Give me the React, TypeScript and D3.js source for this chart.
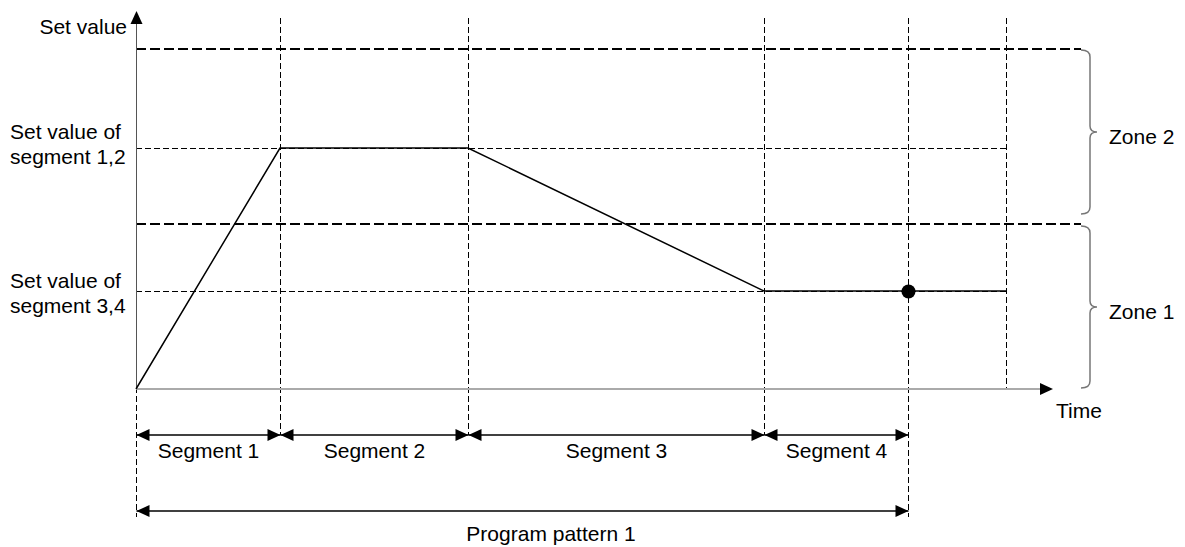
import * as d3 from "d3";

const W = 1185;
const H = 547;

// segment boundary times (arbitrary time units)
const boundaries = [0, 144, 332, 628, 772, 870];
const segmentNames = ["Segment 1", "Segment 2", "Segment 3", "Segment 4"];
// program profile: [time, set value]
const profileTimes = [0, 144, 332, 628, 870];
const profileValues = [0, 241, 241, 98, 98];
const levelValues = [241, 98];
const levelLabels = [["Set value of", "segment 1,2"], ["Set value of", "segment 3,4"]];
const zoneEdges = [0, 165, 340];
const zoneNames = ["Zone 1", "Zone 2"];
const markerTime = 772;

const font = "Arial, 'Liberation Sans', sans-serif";

export default function App() {
  const x = d3.scaleLinear().domain([0, 917]).range([136, 1053]);
  const y = d3.scaleLinear().domain([0, 377]).range([389, 12]);

  const x0 = x(0);
  const y0 = y(0);
  const segY = 435;
  const progY = 511;
  const lastT = boundaries[boundaries.length - 1];
  const labelOffsets = [-9, -3];

  const line = d3
    .line<number>()
    .x((_, i) => x(profileTimes[i]))
    .y((v) => y(v));

  const arrowR = (tx: number, ty: number) =>
    `M${tx},${ty} L${tx - 13},${ty - 6} L${tx - 13},${ty + 6} Z`;
  const arrowL = (tx: number, ty: number) =>
    `M${tx},${ty} L${tx + 13},${ty - 6} L${tx + 13},${ty + 6} Z`;

  const brace = (top: number, bot: number) => {
    const bx = 1081;
    const vx = 1090;
    const mid = (top + bot) / 2;
    const r = 7;
    return `M${bx},${top} Q${vx},${top} ${vx},${top + r}
      L${vx},${mid - 6} Q${vx},${mid} ${vx + 7},${mid}
      Q${vx},${mid} ${vx},${mid + 6}
      L${vx},${bot - r} Q${vx},${bot} ${bx},${bot}`;
  };
  const braceRanges = [
    [y(zoneEdges[1]) + 2, y(zoneEdges[0]) - 1],
    [y(zoneEdges[2]) + 1, y(zoneEdges[1]) - 10],
  ];

  return (
    <svg
      width={W}
      height={H}
      style={{ position: "absolute", left: 0, top: 0, background: "#fff" }}
      fontFamily={font}
      fontSize={21}
    >
      {/* vertical dashed guides */}
      {boundaries.map((t, i) => {
        const y2 = i === 0 || i === 4 ? progY + 6 : i === 5 ? y0 : segY;
        return (
          <line
            key={`v-${i}`}
            x1={Math.round(x(t)) + 0.5}
            x2={Math.round(x(t)) + 0.5}
            y1={18}
            y2={y2}
            stroke="#000"
            strokeWidth={1}
            strokeDasharray="6,3"
            shapeRendering="crispEdges"
          />
        );
      })}

      {/* set value level guides */}
      {levelValues.map((v, i) => (
        <line
          key={`h-${i}`}
          x1={x0}
          x2={x(lastT)}
          y1={Math.round(y(v)) + 0.5}
          y2={Math.round(y(v)) + 0.5}
          stroke="#000"
          strokeWidth={1}
          strokeDasharray="6,3"
          shapeRendering="crispEdges"
        />
      ))}

      {/* zone boundaries */}
      {zoneEdges.slice(1).map((v, i) => (
        <line
          key={`z-${i}`}
          x1={x0}
          x2={1081}
          y1={Math.round(y(v))}
          y2={Math.round(y(v))}
          stroke="#000"
          strokeWidth={2}
          strokeDasharray="10,4"
          shapeRendering="crispEdges"
        />
      ))}

      {/* braces + zone labels */}
      {zoneNames.map((name, i) => {
        const [top, bot] = braceRanges[i];
        return (
          <g key={name}>
            <path d={brace(top, bot)} fill="none" stroke="#777" strokeWidth={1.5} />
            <text x={1109} y={(top + bot) / 2 + 5} dy="0.35em" fill="#000">
              {name}
            </text>
          </g>
        );
      })}

      {/* axes */}
      <line x1={x0} x2={1041} y1={y0} y2={y0} stroke="#aaa" strokeWidth={2} />
      <path d={arrowR(1053, y0)} fill="#000" />
      <line
        x1={x0 + 0.5}
        x2={x0 + 0.5}
        y1={y0}
        y2={22}
        stroke="#555"
        strokeWidth={1}
        shapeRendering="crispEdges"
      />
      <path d={`M${x0 + 0.5},11 L${x0 - 5.5},24 L${x0 + 6.5},24 Z`} fill="#000" />
      <text x={127} y={34} textAnchor="end" fill="#000">
        Set value
      </text>
      <text x={1079} y={418} textAnchor="middle" fill="#000">
        Time
      </text>

      {/* level labels */}
      {levelLabels.map((lines, i) => (
        <text key={`ll-${i}`} x={10} y={y(levelValues[i]) + labelOffsets[i]} fill="#000">
          <tspan x={10}>{lines[0]}</tspan>
          <tspan x={10} dy={25}>
            {lines[1]}
          </tspan>
        </text>
      ))}

      {/* program profile */}
      <path d={line(profileValues) ?? ""} fill="none" stroke="#000" strokeWidth={1.5} />
      <circle cx={x(markerTime) + 0.5} cy={y(98) + 0.5} r={7} fill="#000" />

      {/* segment dimension arrows */}
      {segmentNames.map((name, i) => {
        const a = x(boundaries[i]) + 0.5;
        const b = x(boundaries[i + 1]) + 0.5;
        return (
          <g key={name}>
            <line x1={a} x2={b} y1={segY} y2={segY} stroke="#000" strokeWidth={1.5} />
            <path d={arrowL(a, segY)} fill="#000" />
            <path d={arrowR(b, segY)} fill="#000" />
            <text x={(a + b) / 2} y={458} textAnchor="middle" fill="#000">
              {name}
            </text>
          </g>
        );
      })}

      {/* program pattern arrow */}
      <line
        x1={x0 + 0.5}
        x2={x(markerTime) + 0.5}
        y1={progY}
        y2={progY}
        stroke="#000"
        strokeWidth={1.5}
      />
      <path d={arrowL(x0 + 0.5, progY)} fill="#000" />
      <path d={arrowR(x(markerTime) + 0.5, progY)} fill="#000" />
      <text x={551} y={541} textAnchor="middle" fill="#000">
        Program pattern 1
      </text>
    </svg>
  );
}
